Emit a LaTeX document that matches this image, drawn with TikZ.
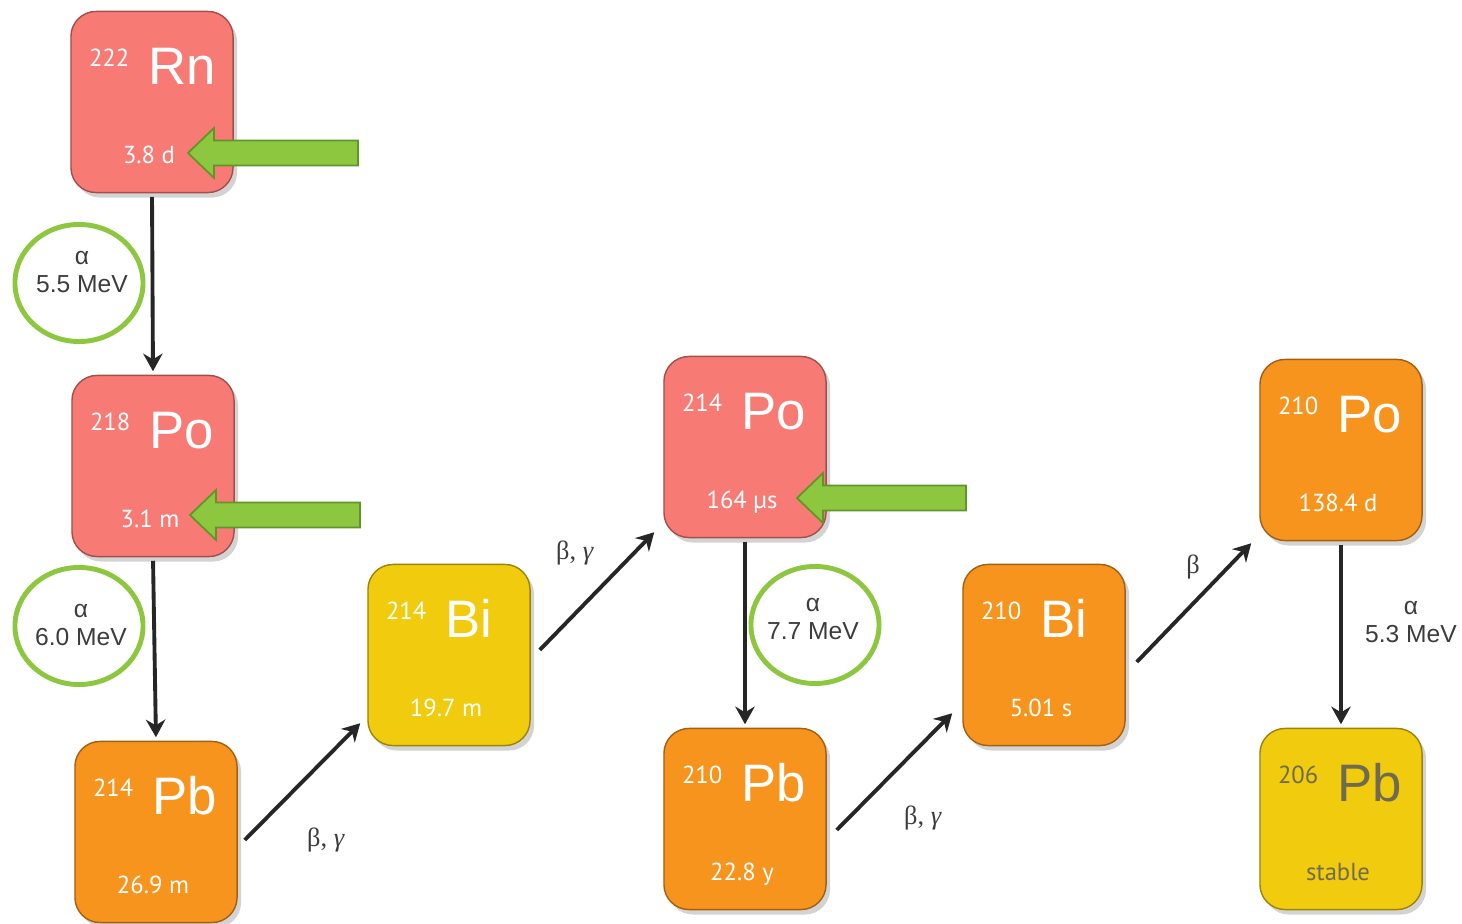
\documentclass[tikz,border=0pt]{standalone}
\usepackage{fontspec}
\setmainfont{Liberation Sans}
\newfontfamily\zahlfont{PT Sans}
\newfontfamily\griechfont{Liberation Serif}
\usepackage{tikz}
\usetikzlibrary{positioning, calc}
\usetikzlibrary{shadows, shapes.geometric}
\usetikzlibrary{arrows.meta}
\definecolor{lachs}{RGB}{248,122,117}
\definecolor{orangeton}{RGB}{247,148,29}
\definecolor{gelbton}{RGB}{240,203,14}
\definecolor{gruen}{RGB}{141,198,63}
\definecolor{gruendunkel}{RGB}{96,150,40}
\definecolor{textgrau}{RGB}{60,60,60}
\definecolor{stabilgrau}{RGB}{112,106,80}
\newcommand{\nuklid}[7]{
\node[kasten, fill=#3, draw=#3!65!black] (#1) at (#2) {};
\node[masse, text=#7] (#1m) at ([xshift=-0.22cm, yshift=0.35cm]#1.center) {#4};
\node[elem, text=#7] (#1s) at ([xshift=-0.04cm, yshift=0.17cm]#1.center) {#5};
\node[zeit, text=#7] (#1t) at ([xshift=-0.03cm, yshift=-0.61cm]#1.center) {#6};
}

\begin{document}
\begin{tikzpicture}[x=0.01cm, y=-0.01cm,
    kasten/.style={rectangle, rounded corners=0.25cm, minimum width=1.62cm, minimum height=1.81cm, line width=0.4pt,
        drop shadow={opacity=0.35, shadow xshift=0.04cm, shadow yshift=-0.05cm}},
    masse/.style={anchor=base east, inner sep=0pt, font=\zahlfont\fontsize{7}{7}\selectfont},
    elem/.style={anchor=base west, inner sep=0pt, font=\fontsize{15}{15}\selectfont},
    zeit/.style={anchor=base, inner sep=0pt, font=\zahlfont\fontsize{7}{7}\selectfont},
    zerfall/.style={-{Stealth[length=5pt, width=5.5pt]}, line width=1.1pt, black!85},
    kreis/.style={ellipse, draw=gruen, line width=1.4pt, minimum width=1.28cm, minimum height=1.17cm},
    hinweis/.style={fill=gruen, draw=gruendunkel, line width=0.5pt},
    beschriftung/.style={align=center, text=textgrau, font=\fontsize{7}{8}\selectfont},
    teilchen/.style={text=textgrau, font=\griechfont\fontsize{7.5}{7.5}\selectfont}]
    \useasboundingbox (0,0) rectangle (1462,924);
    % Zerfallsreihe
    \nuklid{rn}{152,102}{lachs}{222}{Rn}{3.8 d}{white}
    \nuklid{poa}{153,466}{lachs}{218}{Po}{3.1 m}{white}
    \nuklid{pba}{156,832}{orangeton}{214}{Pb}{26.9 m}{white}
    \nuklid{bia}{449,655}{gelbton}{214}{Bi}{19.7 m}{white}
    \nuklid{pob}{745,447}{lachs}{214}{Po}{164 µs}{white}
    \nuklid{pbb}{745,819}{orangeton}{210}{Pb}{22.8 y}{white}
    \nuklid{bib}{1044,655}{orangeton}{210}{Bi}{5.01 s}{white}
    \nuklid{poc}{1341,450}{orangeton}{210}{Po}{138.4 d}{white}
    \nuklid{pbc}{1341,819}{gelbton}{206}{Pb}{stable}{stabilgrau}
    % Pfeile
    \draw[zerfall, shorten <=1pt, shorten >=1pt] (rn.south) -- (poa.north);
    \draw[zerfall, shorten <=1pt, shorten >=1pt] (poa.south) -- (pba.north);
    \draw[zerfall] ([xshift=0.07cm, yshift=-0.08cm]pba.east) -- ([xshift=-0.07cm, yshift=0.23cm]bia.south west);
    \draw[zerfall] ([xshift=0.09cm, yshift=0.05cm]bia.east) -- ([xshift=-0.09cm, yshift=0.06cm]pob.south west);
    \draw[zerfall, shorten <=1pt, shorten >=1pt] (pob.south) -- (pbb.north);
    \draw[zerfall] ([xshift=0.1cm, yshift=-0.11cm]pbb.east) -- ([xshift=-0.1cm, yshift=0.33cm]bib.south west);
    \draw[zerfall] ([xshift=0.11cm, yshift=-0.07cm]bib.east) -- ([xshift=-0.08cm, yshift=-0.02cm]poc.south west);
    \draw[zerfall, shorten <=1pt, shorten >=1pt] (poc.south) -- (pbc.north);
    % Beschriftungen
    \node[kreis] (ka) at (79,283) {};
    \node[kreis] (kb) at (79,626) {};
    \node[kreis] (kc) at (815,625) {};
    \node[beschriftung] (la) at (82,272) {α\\5.5 MeV};
    \node[beschriftung] (lb) at (81,625) {α\\6.0 MeV};
    \node[beschriftung] (lc) at (813,619) {α\\7.7 MeV};
    \node[beschriftung] (ld) at (1411,622) {α\\5.3 MeV};
    \node[teilchen] (ta) at (326,840) {β, \textit{γ}};
    \node[teilchen] (tb) at (575,553) {β, \textit{γ}};
    \node[teilchen] (tc) at (923,818) {β, \textit{γ}};
    \node[teilchen] (td) at (1193,567) {β};
    % gruene Hinweispfeile
    \draw[hinweis] (188,153) -- ++(26,-25) -- ++(0,12.5) -- ++(144,0) -- ++(0,25) -- ++(-144,0) -- ++(0,12.5) -- cycle;
    \draw[hinweis] (190,515) -- ++(26,-25) -- ++(0,12.5) -- ++(144,0) -- ++(0,25) -- ++(-144,0) -- ++(0,12.5) -- cycle;
    \draw[hinweis] (797,498) -- ++(26,-25) -- ++(0,12.5) -- ++(143,0) -- ++(0,25) -- ++(-143,0) -- ++(0,12.5) -- cycle;
\end{tikzpicture}
\end{document}
